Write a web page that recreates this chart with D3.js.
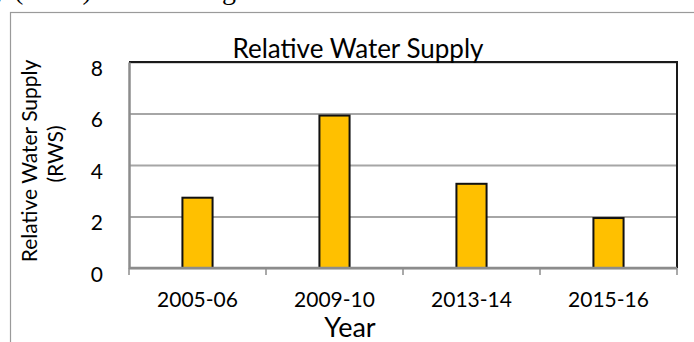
<!DOCTYPE html>
<html>
<head>
<meta charset="utf-8">
<script src="https://cdn.jsdelivr.net/npm/d3@7/dist/d3.min.js"></script>
<style>
  html, body { margin: 0; padding: 0; background: #fff; }
  svg { display: block; }
  text { font-family: Lato, "Open Sans", sans-serif; fill: #000; }
</style>
</head>
<body>
<svg id="chart" width="694" height="342"></svg>
<script>
// ---- data ----
const categories = ["2005-06", "2009-10", "2013-14", "2015-16"];
const rwsValues = [2.73, 5.92, 3.27, 1.94];
const yTicks = [0, 2, 4, 6, 8];
const chartTitle = "Relative Water Supply";
const yTitleLines = ["Relative Water Supply", "(RWS)"];
const xTitle = "Year";

// ---- layout ----
const W = 694, H = 342;
const plot = { left: 129, right: 677, top: 62, bottom: 268 };

const svg = d3.select("#chart");

// fragment of document text above the chart (cropped in the reference too)
svg.append("text").attr("x", -7).attr("y", -1).attr("font-size", 28)
  .style("font-family", "'Liberation Serif', serif").text("y (RWS)");
svg.append("text").attr("x", 222).attr("y", -1).attr("font-size", 28)
  .style("font-family", "'Liberation Serif', serif").text("g");

// outer chart frame (extends beyond the crop)
svg.append("rect")
  .attr("x", 10.5).attr("y", 12.5)
  .attr("width", W + 20).attr("height", H + 20)
  .attr("fill", "#fff").attr("stroke", "#9a9a9a").attr("stroke-width", 1.2);

const x = d3.scaleBand().domain(categories).range([plot.left, plot.right]).padding(0);
const y = d3.scaleLinear().domain([0, 8]).range([plot.bottom, plot.top]);

// gridlines
const grid = svg.append("g")
  .attr("transform", `translate(${plot.left},0)`)
  .call(d3.axisLeft(y).tickValues(yTicks).tickSize(-(plot.right - plot.left)).tickFormat(""));
grid.select(".domain").remove();
grid.selectAll(".tick line").attr("stroke", "#a6a6a6").attr("stroke-width", 2);

// top and right borders
svg.append("path")
  .attr("d", `M${plot.left},${plot.top}H${plot.right}V${plot.bottom}`)
  .attr("fill", "none").attr("stroke", "#1a1a1a").attr("stroke-width", 2);

// bars
const barW = x.bandwidth() * 0.22;
svg.append("g").selectAll("rect")
  .data(categories.map((c, i) => ({ c, v: rwsValues[i] })))
  .join("rect")
  .attr("x", d => x(d.c) + x.bandwidth() / 2 - barW / 2)
  .attr("y", d => y(d.v))
  .attr("width", barW)
  .attr("height", d => y(0) - y(d.v))
  .attr("fill", "#FFC000")
  .attr("stroke", "#111")
  .attr("stroke-width", 2);

// y axis (labels, gray domain line)
const yAxis = svg.append("g")
  .attr("transform", `translate(${plot.left},0)`)
  .call(d3.axisLeft(y).tickValues(yTicks).tickSize(0).tickPadding(26).tickFormat(d3.format("d")));
yAxis.select(".domain").attr("stroke", "#8c8c8c").attr("stroke-width", 2.5);
yAxis.selectAll(".tick text")
  .attr("font-size", 21).attr("dy", "0.62em")
  .style("font-family", "Lato, sans-serif").attr("fill", "#000");

// x axis: gray line + ticks at category boundaries
const xAxis = svg.append("g").attr("transform", `translate(0,${plot.bottom})`);
xAxis.append("line")
  .attr("x1", plot.left).attr("x2", plot.right)
  .attr("stroke", "#8c8c8c").attr("stroke-width", 2.5);
const boundaries = categories.map(c => x(c)).concat([x.range()[1]]);
xAxis.selectAll("line.tk").data(boundaries).join("line")
  .attr("class", "tk")
  .attr("x1", d => d).attr("x2", d => d)
  .attr("y1", 0).attr("y2", 7)
  .attr("stroke", "#8c8c8c").attr("stroke-width", 1.5);
xAxis.selectAll("text").data(categories).join("text")
  .attr("x", d => x(d) + x.bandwidth() / 2)
  .attr("y", 39)
  .attr("text-anchor", "middle")
  .attr("font-size", 21)
  .text(d => d);

// title
svg.append("text")
  .attr("x", 358).attr("y", 58)
  .attr("text-anchor", "middle").attr("font-size", 26)
  .text(chartTitle);

// y title (two lines)
svg.append("text")
  .attr("transform", "translate(37,161) rotate(-90)")
  .attr("text-anchor", "middle").attr("font-size", 21)
  .text(yTitleLines[0]);
svg.append("text")
  .attr("transform", "translate(63,154) rotate(-90)")
  .attr("text-anchor", "middle").attr("font-size", 21)
  .text(yTitleLines[1]);

// x title
svg.append("text")
  .attr("x", 350).attr("y", 337)
  .attr("text-anchor", "middle").attr("font-size", 27)
  .text(xTitle);
</script>
</body>
</html>
